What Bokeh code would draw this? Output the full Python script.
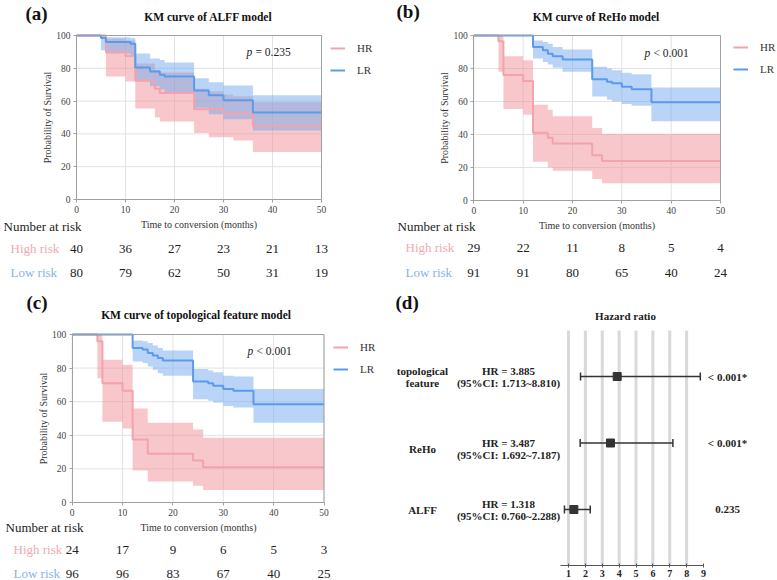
import math
from bokeh.plotting import figure
from bokeh.layouts import column, row
from bokeh.models import (Range1d, FixedTicker, Label, LabelSet, ColumnDataSource,
                          Legend, LegendItem)
from bokeh.embed import file_html
from bokeh.resources import INLINE
from bokeh.core.properties import value

SERIF = "Liberation Serif"
PINK_LINE = "#F2A3AB"
BLUE_LINE = "#5B9BEA"
PINK_FILL = "#EF9098"
BLUE_FILL = "#73AAF0"
PINK_TEXT = "#F0A9B1"
BLUE_TEXT = "#86B3EA"
GRID = "#E2E2E2"
FRAME = "#A0A0A0"

# ---------------- data ----------------
risk_months = [0, 10, 20, 30, 40, 50]
x_ticks = [0, 10, 20, 30, 40, 50]
y_ticks = [0, 20, 40, 60, 80, 100]

# (a) ALFF model
alff_hr_t = [0, 6, 10, 12, 16, 17, 24, 27, 30, 32, 36, 50]
alff_hr_s = [100, 90, 87.5, 72.5, 67.5, 65, 55, 55, 52.5, 52.5, 45, 45]
alff_hr_lo = [100, 75, 72, 55.5, 50, 47.5, 40.5, 38, 38, 36, 29, 29]
alff_hr_hi = [100, 98, 97, 83, 79, 77.5, 67.5, 66, 64, 63, 59.5, 59.5]
alff_lr_t = [0, 5, 6, 11, 12, 15, 17, 18, 24, 27, 30, 36, 50]
alff_lr_s = [100, 98.5, 96, 95, 80.5, 78, 76, 75, 66.5, 63.5, 60.5, 53, 53]
alff_lr_hi = [100, 100, 99, 98.5, 89, 86, 85, 83.5, 74, 71.5, 69.5, 63.5, 63.5]
alff_lr_lo = [100, 91, 89, 88, 72, 69, 67, 65, 56, 52, 49, 42, 42]
alff_high_risk = [40, 36, 27, 23, 21, 13]
alff_low_risk = [80, 79, 62, 50, 31, 19]

# (b) ReHo model
reho_hr_t = [0, 5, 6, 10, 12, 15, 16, 24, 26, 50]
reho_hr_s = [100, 96.5, 76, 72.5, 41, 38, 34.5, 27.5, 24, 24]
reho_hr_hi = [100, 100, 87.5, 85, 58, 55, 51, 44, 40.5, 40.5]
reho_hr_lo = [100, 78, 55.5, 52, 23.5, 20, 18, 13, 10.5, 10.5]
reho_lr_t = [0, 12, 14, 15, 16, 18, 24, 27, 28, 30, 32, 36, 50]
reho_lr_s = [100, 93, 91, 89, 87.5, 85.5, 73.5, 72, 71, 69, 67.5, 59.5, 59.5]
reho_lr_hi = [100, 97, 96, 95, 93, 91.5, 81, 80, 79, 77.5, 76.5, 68.5, 68.5]
reho_lr_lo = [100, 86, 84, 82.5, 80.5, 78, 63, 61, 60, 58.5, 57.5, 48, 48]
reho_high_risk = [29, 22, 11, 8, 5, 4]
reho_low_risk = [91, 91, 80, 65, 40, 24]

# (c) topological feature model
topo_hr_t = [0, 5, 6, 10, 12, 15, 24, 26, 50]
topo_hr_s = [100, 96, 71, 66.5, 37.5, 29, 25, 21, 21]
topo_hr_hi = [100, 100, 85, 82, 56, 47.5, 43.5, 38.5, 38.5]
topo_hr_lo = [100, 74, 48, 44, 19, 12.5, 10, 7.5, 7.5]
topo_lr_t = [0, 12, 14, 15, 16, 17, 18, 24, 27, 28, 30, 32, 36, 50]
topo_lr_s = [100, 92, 91, 89, 87.5, 86, 84.5, 72, 71, 69.5, 67.5, 66.5, 58.5, 58.5]
topo_lr_hi = [100, 96.5, 96, 95, 93.5, 92, 90.5, 79.5, 78.5, 77.5, 75.5, 75, 67.5, 67.5]
topo_lr_lo = [100, 84, 83, 81, 79, 77, 75.5, 61.5, 60.5, 59.5, 57.5, 56.5, 47.5, 47.5]
topo_high_risk = [24, 17, 9, 6, 5, 3]
topo_low_risk = [96, 96, 83, 67, 40, 25]

# (d) hazard ratios
hr_models = ["topological feature", "ReHo", "ALFF"]
hr_value = [3.885, 3.487, 1.318]
hr_lower = [1.713, 1.692, 0.760]
hr_upper = [8.810, 7.187, 2.288]
hr_pvalue = ["< 0.001*", "< 0.001*", "0.235"]
hr_ticks = [1, 2, 3, 4, 5, 6, 7, 8, 9]


class Geo:
    """maps panel pixel positions (from top-left) to data values"""
    def __init__(self, w, h, xa_px, xa_v, xb_px, xb_v, ya_px, ya_v, yb_px, yb_v):
        self.w, self.h = w, h
        self.sx = (xb_px - xa_px) / (xb_v - xa_v)
        self.sy = (yb_px - ya_px) / (yb_v - ya_v)  # negative (px grows downward)
        self.xa_px, self.xa_v, self.ya_px, self.ya_v = xa_px, xa_v, ya_px, ya_v

    def X(self, px):
        return self.xa_v + (px - self.xa_px) / self.sx

    def Y(self, py):
        return self.ya_v + (py - self.ya_px) / self.sy

    def fig(self):
        p = figure(width=self.w, height=self.h, title=None,
                   x_range=Range1d(self.X(0), self.X(self.w)),
                   y_range=Range1d(self.Y(self.h), self.Y(0)),
                   output_backend="svg", toolbar_location=None, min_border=0,
                   background_fill_color="white", border_fill_color="white")
        p.outline_line_color = None
        p.grid.visible = False
        return p


def txt(p, x, y, text, size, color="#222222", style="normal", align="left",
        xoff=0, yoff=0):
    p.add_layout(Label(x=x, y=y, x_offset=xoff, y_offset=yoff, text=text,
                       text_align=align, text_baseline="middle", text_font=SERIF,
                       text_font_style=style, text_font_size=size, text_color=color))


def km_panel(g, letter, title, pval_op, pval, hr, lr, high, low, pos):
    p = g.fig()
    # grid
    p.segment(x0=x_ticks, y0=[0] * 6, x1=x_ticks, y1=[100] * 6, line_color=GRID, line_width=1)
    p.segment(x0=[0] * 6, y0=y_ticks, x1=[50] * 6, y1=y_ticks, line_color=GRID, line_width=1)

    ht, hs, hlo, hhi = hr
    lt, ls, llo, lhi = lr
    p.varea_step(x=ht, y1=hlo, y2=hhi, step_mode="after", fill_color=PINK_FILL, fill_alpha=0.5)
    p.varea_step(x=lt, y1=llo, y2=lhi, step_mode="after", fill_color=BLUE_FILL, fill_alpha=0.5)
    r_hr = p.step(x=ht, y=hs, mode="after", line_color=PINK_LINE, line_width=2)
    r_lr = p.step(x=lt, y=ls, mode="after", line_color=BLUE_LINE, line_width=2)
    # frame box (top / right edges)
    p.segment(x0=[0, 50], y0=[100, 0], x1=[50, 50], y1=[100, 100], line_color=FRAME, line_width=1)

    # axes placed at the data origin
    p.xaxis.fixed_location = 0
    p.xaxis.bounds = (0, 50)
    p.yaxis.fixed_location = 0
    p.yaxis.bounds = (0, 100)
    p.xaxis.ticker = FixedTicker(ticks=x_ticks)
    p.yaxis.ticker = FixedTicker(ticks=y_ticks)
    for ax in (p.xaxis[0], p.yaxis[0]):
        ax.axis_line_color = FRAME
        ax.major_tick_line_color = FRAME
        ax.major_tick_out = 3
        ax.major_tick_in = 0
        ax.minor_tick_line_color = None
        ax.major_label_text_font = SERIF
        ax.major_label_text_font_size = "9.5px"
        ax.major_label_text_color = "#444444"
        ax.major_label_standoff = 3
        ax.axis_label_text_font = SERIF
        ax.axis_label_text_font_size = "10px"
        ax.axis_label_text_font_style = "normal"
        ax.axis_label_text_color = "#333333"
        ax.axis_label_standoff = 3
    p.yaxis.axis_label_standoff = 0
    p.xaxis.axis_label = "Time to conversion (months)"
    p.yaxis.axis_label = "Probability of Survival"

    leg_x, leg_top = pos["legend"]
    leg = Legend(items=[LegendItem(label="HR", renderers=[r_hr]),
                        LegendItem(label="LR", renderers=[r_lr])],
                 location=(leg_x, g.h - leg_top - 36), border_line_color=None,
                 background_fill_alpha=0,
                 label_text_font=SERIF, label_text_font_size="11px",
                 label_text_color="#333333", glyph_width=15, glyph_height=14,
                 label_height=14, spacing=8, padding=0, margin=0, label_standoff=12)
    p.add_layout(leg)

    tx, ty = pos["title"]
    txt(p, g.X(tx), g.Y(ty), title, "11.5px", "#111111", "bold", "center")
    lx, ly = pos["letter"]
    txt(p, g.X(lx), g.Y(ly), letter, "19px", "#111111", "bold")
    px_, py_ = pos["p"]
    txt(p, g.X(px_), g.Y(py_), "p", "11.5px", style="italic")
    txt(p, g.X(px_), g.Y(py_), pval_op + " " + pval, "11.5px", xoff=9)

    nx, ny = pos["nar"]
    txt(p, g.X(nx), g.Y(ny), "Number at risk", "13px")
    rx, (hy, ly2) = pos["rows"]
    txt(p, g.X(rx), g.Y(hy), "High risk", "13px", PINK_TEXT)
    txt(p, g.X(rx), g.Y(ly2), "Low risk", "13px", BLUE_TEXT)
    src = ColumnDataSource(dict(x=risk_months + risk_months,
                                y=[g.Y(hy)] * len(high) + [g.Y(ly2)] * len(low),
                                t=[str(v) for v in high] + [str(v) for v in low]))
    p.add_layout(LabelSet(x="x", y="y", text="t", source=src, text_align="center",
                          text_baseline="middle", text_font=value(SERIF),
                          text_font_size="13px", text_color="#222222"))
    return p


ga = Geo(390, 290, 76, 0, 321, 50, 199, 0, 35, 100)
pa = km_panel(ga, "(a)", "KM curve of ALFF model", "=", "0.235",
              (alff_hr_t, alff_hr_s, alff_hr_lo, alff_hr_hi),
              (alff_lr_t, alff_lr_s, alff_lr_lo, alff_lr_hi),
              alff_high_risk, alff_low_risk,
              dict(title=(208, 16), letter=(25, 13), p=(246, 51), legend=(330, 41),
                   nar=(3, 226), rows=(10, (248, 272))))

gb = Geo(387, 290, 83.3, 0, 330, 50, 200, 0, 35, 100)
pb = km_panel(gb, "(b)", "KM curve of  ReHo model", "<", "0.001",
              (reho_hr_t, reho_hr_s, reho_hr_lo, reho_hr_hi),
              (reho_lr_t, reho_lr_s, reho_lr_lo, reho_lr_hi),
              reho_high_risk, reho_low_risk,
              dict(title=(207, 16), letter=(6, 11), p=(254, 52), legend=(343, 40),
                   nar=(7, 226), rows=(15, (247, 272))))

gc = Geo(390, 290, 71.7, 0, 323.5, 50, 212, 0, 44, 100)
pc = km_panel(gc, "(c)", "KM curve of  topological feature model", "<", "0.001",
              (topo_hr_t, topo_hr_s, topo_hr_lo, topo_hr_hi),
              (topo_lr_t, topo_lr_s, topo_lr_lo, topo_lr_hi),
              topo_high_risk, topo_low_risk,
              dict(title=(197, 24), letter=(26, 12), p=(247, 60), legend=(333, 50),
                   nar=(5, 237), rows=(13, (259, 283))))

# ---------------- (d) forest plot ----------------
gd = Geo(387, 290, 178, 1, 313, 9, 219, 1, 86, 3)
pd_ = gd.fig()
rows = [3, 2, 1]
axis_y = gd.Y(275)
grid_top = gd.Y(40)
pd_.segment(x0=hr_ticks[:-1], y0=[axis_y] * 8, x1=hr_ticks[:-1], y1=[grid_top] * 8,
            line_color="#D9D9D9", line_width=3)
pd_.yaxis.visible = False
pd_.xaxis.fixed_location = axis_y
pd_.xaxis.bounds = (gd.X(170), 9)
ax = pd_.xaxis[0]
ax.ticker = FixedTicker(ticks=hr_ticks)
ax.axis_line_color = "#555555"
ax.major_tick_line_color = "#555555"
ax.major_tick_in = 2
ax.major_tick_out = 2
ax.minor_tick_line_color = None
ax.major_label_text_font = SERIF
ax.major_label_text_font_style = "bold"
ax.major_label_text_font_size = "10px"
ax.major_label_text_color = "#222222"
ax.major_label_standoff = 2

pd_.segment(x0=hr_lower, y0=rows, x1=hr_upper, y1=rows, line_color="#333333", line_width=1.5)
pd_.scatter(x=hr_lower + hr_upper, y=rows + rows, marker="dash", angle=math.pi / 2,
            size=8, line_color="#333333", line_width=1.5)
pd_.scatter(x=hr_value, y=rows, marker="square", size=8, fill_color="#333333",
            line_color="#333333")

txt(pd_, gd.X(5), gd.Y(12), "(d)", "19px", "#111111", "bold")
txt(pd_, gd.X(235), gd.Y(25), "Hazard ratio", "11px", style="bold", align="center")
name_x, hr_x, p_x = gd.X(32), gd.X(118), gd.X(337)
row_offsets = [(6, -6, 0), (0, -12, -6), (6, -6, 0)]
for i, name in enumerate(hr_models):
    o1, o2, on = row_offsets[i]
    words = name.split(" ")
    if len(words) == 2:
        txt(pd_, name_x, rows[i], words[0], "11px", style="bold", align="center", yoff=6)
        txt(pd_, name_x, rows[i], words[1], "11px", style="bold", align="center", yoff=-6)
    else:
        txt(pd_, name_x, rows[i], name, "11px", style="bold", align="center", yoff=on)
    txt(pd_, hr_x, rows[i], "HR = %.3f" % hr_value[i], "11px", style="bold",
        align="center", yoff=o1)
    txt(pd_, hr_x, rows[i], "(95%%CI: %.3f~%.3f)" % (hr_lower[i], hr_upper[i]), "11px",
        style="bold", align="center", yoff=o2)
    txt(pd_, p_x, rows[i], hr_pvalue[i], "11px", style="bold", align="center")

layout = column(row(pa, pb), row(pc, pd_))
open("out.html", "w").write(file_html(layout, INLINE))
